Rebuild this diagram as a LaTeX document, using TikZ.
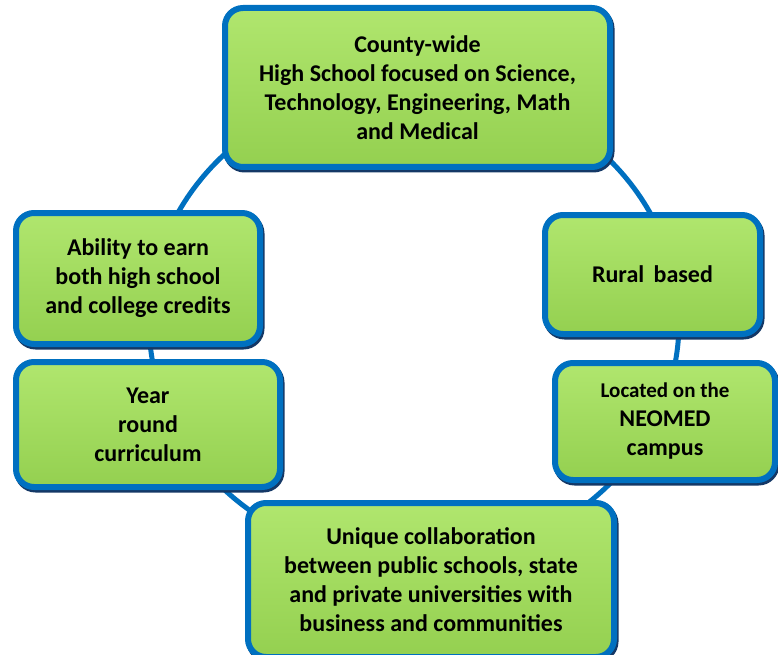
\documentclass[tikz,border=0pt]{standalone}
\usepackage{fontspec}
\setmainfont{Carlito}
\usetikzlibrary{shadows}
\definecolor{ringblue}{RGB}{0,112,192}
\definecolor{boxnavy}{RGB}{20,56,102}
\definecolor{boxgreen}{RGB}{160,220,90}
\definecolor{boxlight}{RGB}{176,230,110}
\definecolor{boxdark}{RGB}{148,208,80}
\begin{document}
\begin{tikzpicture}[x=1pt,y=-1pt,
	card/.style={draw=ringblue,line width=6pt,rounded corners=18pt,
		top color=boxlight,middle color=boxgreen,bottom color=boxdark,
		drop shadow={shadow xshift=1.5pt,shadow yshift=-2.5pt,opacity=1,
			fill=boxnavy,draw=boxnavy,line width=6pt},
		align=center,inner sep=0pt,
		font=\bfseries\fontsize{24}{29}\selectfont},
	ring/.style={draw=ringblue,line width=5pt}]
	\useasboundingbox (0,0) rectangle (778,655);
	% ring behind the boxes
	\coordinate (hub) at (414,322);
	\draw[ring] (hub) ellipse [x radius=265,y radius=240];
	% boxes round the ring
	\node[card,minimum width=385pt,minimum height=159pt] (stem) at (417.5,87.5)
	{County-wide\\High School focused on Science,\\Technology, Engineering, Math\\and Medical};
	\node[card,minimum width=244pt,minimum height=131pt] (credits) at (138,278.5)
	{Ability to earn\\both high school\\and college credits};
	\node[card,minimum width=264pt,minimum height=125pt] (year) at (148,424.5)
	{Year\\round\\curriculum};
	\node[card,minimum width=215pt,minimum height=119pt] (rural) at (652.5,274.5)
	{Rural\, based};
	\node[card,minimum width=220pt,minimum height=117pt] (neomed) at (665,421.5)
	{{\fontsize{21}{29}\selectfont Located on the}\\NEOMED\\campus};
	\node[card,minimum width=366pt,minimum height=154pt] (collab) at (431,580)
	{Unique collaboration\\between public schools, state\\and private universities with\\business and communities};
\end{tikzpicture}
\end{document}
